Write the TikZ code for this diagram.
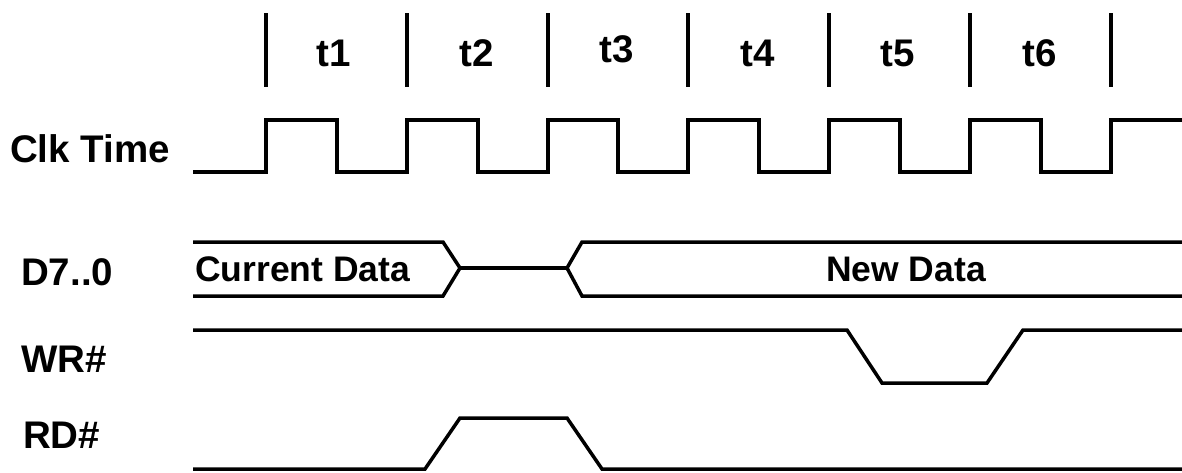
\documentclass[tikz,border=0pt]{standalone}
\usepackage{fontspec}
\setmainfont{Liberation Sans}
\begin{document}
\begin{tikzpicture}[x=1pt,y=-1pt,
  sig/.style={line width=3.5pt,line join=miter},
  lbl/.style={inner sep=0pt,font=\fontsize{38.5}{42}\selectfont\bfseries},
  signame/.style={inner sep=0pt,font=\fontsize{38.5}{42}\selectfont\bfseries},
  buslbl/.style={inner sep=0pt,font=\fontsize{35.5}{40}\selectfont\bfseries},
]
\useasboundingbox (0,0) rectangle (1182,472);
% labels
\node[signame,anchor=base west] (clk) at (10,162) {Clk Time};
\node[signame,anchor=base west] (d) at (21,285.7) {D7..0};
\node[signame,anchor=base west] (wr) at (21,372.7) {WR\#};
\node[signame,anchor=base west] (rd) at (23,448.3) {RD\#};
% period labels
\node[lbl,anchor=base] (t1) at (334,66) {t1};
\node[lbl,anchor=base] (t2) at (477,66) {t2};
\node[lbl,anchor=base] (t3) at (617,62) {t3};
\node[lbl,anchor=base] (t4) at (758,66) {t4};
\node[lbl,anchor=base] (t5) at (898,66) {t5};
\node[lbl,anchor=base] (t6) at (1040,66) {t6};
% ticks
\foreach \x in {266,407,548,688,829,970,1111}
  \draw[line width=4pt] (\x,13) -- (\x,87);
% clock
\draw[sig] (193,172) -- (266,172) -- (266,120) -- (337,120) -- (337,172)
  -- (407,172) -- (407,120) -- (478,120) -- (478,172)
  -- (548,172) -- (548,120) -- (618,120) -- (618,172)
  -- (688,172) -- (688,120) -- (759,120) -- (759,172)
  -- (829,172) -- (829,120) -- (900,120) -- (900,172)
  -- (970,172) -- (970,120) -- (1041,120) -- (1041,172)
  -- (1111,172) -- (1111,120) -- (1182,120);
% data bus
\draw[sig] (193,242) -- (443,242) -- (460,268) -- (443,296) -- (193,296);
\draw[sig] (460,268) -- (567,268);
\draw[sig] (1182,242) -- (582,242) -- (567,268) -- (582,296) -- (1182,296);
\node[buslbl,anchor=base west] (cur) at (195,281) {Current Data};
\node[buslbl,anchor=base] (new) at (906,281) {New Data};
% WR#
\draw[sig] (193,330) -- (847,330) -- (882,383) -- (987,383) -- (1023,330) -- (1182,330);
% RD#
\draw[sig] (193,469) -- (425,469) -- (460,418) -- (567,418) -- (602,469) -- (1182,469);
\end{tikzpicture}
\end{document}
